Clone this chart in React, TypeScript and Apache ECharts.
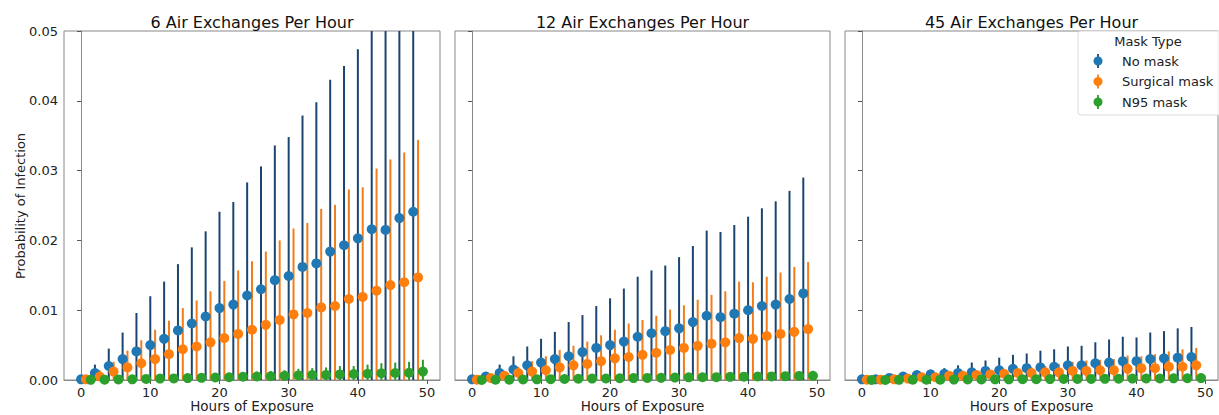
import React, { useEffect, useRef } from "react";
import * as echarts from "echarts";

// ---------- data ----------
const hours = [0, 2, 4, 6, 8, 10, 12, 14, 16, 18, 20, 22, 24, 26, 28, 30, 32, 34, 36, 38, 40, 42, 44, 46, 48];
const panelTitles = ["6 Air Exchanges Per Hour", "12 Air Exchanges Per Hour", "45 Air Exchanges Per Hour"];
const maskTypes = ["No mask", "Surgical mask", "N95 mask"];
const xAxisTitle = "Hours of Exposure";
const yAxisTitle = "Probability of Infection";
const xTicks = [0, 10, 20, 30, 40, 50];
const yTicks = [0, 0.01, 0.02, 0.03, 0.04, 0.05];

// 6 ACH
const ach6NoMask = [0.0001, 0.001, 0.002, 0.003, 0.0041, 0.005, 0.0059, 0.0071, 0.0081, 0.0091, 0.0103, 0.0108, 0.0121, 0.013, 0.0143, 0.0149, 0.0162, 0.0167, 0.0184, 0.0193, 0.0203, 0.0216, 0.0215, 0.0232, 0.0241];
const ach6NoMaskHi = [0.0002, 0.0022, 0.0045, 0.0068, 0.0096, 0.012, 0.0141, 0.0166, 0.019, 0.0213, 0.0241, 0.0255, 0.0283, 0.0306, 0.0336, 0.0348, 0.0379, 0.0398, 0.043, 0.045, 0.0474, 0.052, 0.051, 0.054, 0.056];
const ach6Surgical = [0.0001, 0.0005, 0.0012, 0.0018, 0.0024, 0.003, 0.0037, 0.0044, 0.0048, 0.0054, 0.006, 0.0066, 0.0072, 0.0079, 0.0086, 0.0094, 0.0096, 0.0104, 0.0106, 0.0116, 0.0119, 0.0128, 0.0136, 0.014, 0.0147];
const ach6SurgicalHi = [0.0002, 0.0014, 0.0026, 0.0042, 0.0057, 0.0072, 0.0085, 0.0103, 0.0114, 0.0127, 0.0142, 0.0157, 0.017, 0.0184, 0.02, 0.0217, 0.0225, 0.0245, 0.0251, 0.0273, 0.0276, 0.0303, 0.0316, 0.0326, 0.0344];
const ach6N95 = [0.00002, 0.00005, 0.00008, 0.0001, 0.00016, 0.0002, 0.00023, 0.00027, 0.00031, 0.00036, 0.0004, 0.00046, 0.0005, 0.00054, 0.0006, 0.00066, 0.0007, 0.00073, 0.0008, 0.00086, 0.0009, 0.00097, 0.001, 0.00104, 0.0012];
const ach6N95Hi = [0.00006, 0.0001, 0.0002, 0.0003, 0.0004, 0.0005, 0.0006, 0.0007, 0.0008, 0.0009, 0.001, 0.0011, 0.0012, 0.0013, 0.0014, 0.0016, 0.0017, 0.0018, 0.002, 0.002, 0.0022, 0.0024, 0.0025, 0.0026, 0.0029];

// 12 ACH
const ach12NoMask = [0.0001, 0.0005, 0.001, 0.0015, 0.0021, 0.0025, 0.003, 0.0034, 0.004, 0.0046, 0.005, 0.0055, 0.0062, 0.0067, 0.007, 0.0074, 0.0083, 0.0092, 0.009, 0.0095, 0.01, 0.0106, 0.0108, 0.0116, 0.0124];
const ach12NoMaskHi = [0.0001, 0.0007, 0.0022, 0.0034, 0.0048, 0.0059, 0.0069, 0.0083, 0.0093, 0.0106, 0.0117, 0.0131, 0.0148, 0.0157, 0.0164, 0.0176, 0.0192, 0.0214, 0.0212, 0.0222, 0.0234, 0.0246, 0.0256, 0.0271, 0.029];
const ach12Surgical = [0.00005, 0.0003, 0.0006, 0.001, 0.0012, 0.0014, 0.0018, 0.0021, 0.0023, 0.0027, 0.0031, 0.0033, 0.0036, 0.0039, 0.0043, 0.0046, 0.0049, 0.0052, 0.0054, 0.006, 0.0059, 0.0063, 0.0066, 0.0069, 0.0073];
const ach12SurgicalHi = [0.0001, 0.0005, 0.0011, 0.0019, 0.0027, 0.0034, 0.0043, 0.0049, 0.0055, 0.0064, 0.0072, 0.0081, 0.0086, 0.0092, 0.0101, 0.0107, 0.0115, 0.0122, 0.0127, 0.0141, 0.014, 0.0148, 0.0154, 0.0162, 0.0169];
const ach12N95 = [0.00001, 0.00003, 0.00005, 0.00007, 0.0001, 0.00012, 0.00014, 0.00018, 0.0002, 0.00021, 0.00025, 0.00028, 0.0003, 0.00031, 0.00035, 0.00038, 0.0004, 0.00041, 0.00045, 0.00048, 0.0005, 0.00051, 0.00055, 0.00058, 0.0006];
const ach12N95Hi = [0.00003, 0.00008, 0.00012, 0.00016, 0.0002, 0.00026, 0.0003, 0.00036, 0.0004, 0.00045, 0.0005, 0.00056, 0.0006, 0.00066, 0.0007, 0.00076, 0.0008, 0.00086, 0.0009, 0.00098, 0.001, 0.0011, 0.0011, 0.0012, 0.0013];

// 45 ACH
const ach45NoMask = [0.0001, 0.0001, 0.0003, 0.0005, 0.0007, 0.0008, 0.0009, 0.001, 0.0011, 0.0013, 0.0014, 0.0016, 0.0017, 0.0018, 0.0019, 0.0021, 0.0021, 0.0024, 0.0025, 0.0027, 0.0027, 0.003, 0.0031, 0.0032, 0.0033];
const ach45NoMaskHi = [0.0001, 0.0003, 0.0005, 0.0007, 0.0011, 0.0015, 0.0017, 0.0021, 0.0025, 0.0028, 0.0032, 0.0036, 0.0038, 0.0042, 0.0044, 0.0048, 0.0049, 0.0054, 0.0058, 0.0062, 0.0061, 0.0068, 0.007, 0.0074, 0.0076];
const ach45Surgical = [0.00003, 0.00005, 0.0001, 0.0002, 0.0004, 0.0004, 0.0006, 0.0006, 0.0007, 0.0008, 0.0009, 0.001, 0.001, 0.0011, 0.0011, 0.0013, 0.0013, 0.0014, 0.0014, 0.0016, 0.0017, 0.0017, 0.0019, 0.0019, 0.0021];
const ach45SurgicalHi = [0.00005, 0.0001, 0.0002, 0.0003, 0.0004, 0.0006, 0.0007, 0.0009, 0.0011, 0.0012, 0.0014, 0.0015, 0.0018, 0.002, 0.0023, 0.0026, 0.0028, 0.0029, 0.003, 0.0035, 0.0034, 0.0037, 0.0041, 0.0044, 0.0046];
const ach45N95 = [0.00001, 0.00001, 0.00002, 0.00003, 0.00004, 0.00005, 0.00006, 0.00007, 0.00008, 0.00009, 0.0001, 0.00011, 0.00012, 0.00013, 0.00014, 0.00015, 0.00016, 0.00017, 0.00018, 0.0002, 0.00021, 0.00022, 0.00024, 0.00025, 0.00027];
const ach45N95Hi = [0.00002, 0.00003, 0.00005, 0.00006, 0.00008, 0.0001, 0.00012, 0.00014, 0.00016, 0.00018, 0.0002, 0.00022, 0.00024, 0.00026, 0.00028, 0.0003, 0.00032, 0.00034, 0.00036, 0.0004, 0.00042, 0.00044, 0.00048, 0.0005, 0.00054];

const panels = [
  { mid: [ach6NoMask, ach6Surgical, ach6N95], hi: [ach6NoMaskHi, ach6SurgicalHi, ach6N95Hi] },
  { mid: [ach12NoMask, ach12Surgical, ach12N95], hi: [ach12NoMaskHi, ach12SurgicalHi, ach12N95Hi] },
  { mid: [ach45NoMask, ach45Surgical, ach45N95], hi: [ach45NoMaskHi, ach45SurgicalHi, ach45N95Hi] },
];

// ---------- styling ----------
const FONT = "DejaVu Sans";
const markerColors = ["#1f77b4", "#ff7f0e", "#2ca02c"];
const barColors = ["#1b4570", "#f27d1a", "#2a9a2a"];
const dodge = [0, 0.7, 1.4];
const Y_MAX = 0.05;
const grids = [
  { left: 64, top: 31, width: 376, height: 349 },
  { left: 455, top: 31, width: 375, height: 349 },
  { left: 845, top: 31, width: 373, height: 349 },
];

export default function App() {
  const ref = useRef<HTMLDivElement>(null);
  useEffect(() => {
    if (!ref.current) return;
    const chart = echarts.init(ref.current, null, { renderer: "svg" });

    const xAxis: any[] = [];
    const yAxis: any[] = [];
    const series: any[] = [];
    const graphic: any[] = [];

    grids.forEach((g, gi) => {
      xAxis.push({
        type: "value",
        gridIndex: gi,
        min: -2.47,
        max: 51.87,
        axisLine: { show: true, lineStyle: { color: "#888" } },
        axisTick: { show: true, length: 4, lineStyle: { color: "#555" }, customValues: xTicks },
        axisLabel: { fontFamily: FONT, fontSize: 13, color: "#222", margin: 6, customValues: xTicks },
        splitLine: { show: false },
      });
      yAxis.push({
        type: "value",
        gridIndex: gi,
        min: 0,
        max: Y_MAX,
        interval: 0.01,
        axisLine: { show: true, lineStyle: { color: "#888" } },
        axisTick: { show: true, length: 4, lineStyle: { color: "#555" } },
        axisLabel: {
          show: gi === 0,
          fontFamily: FONT,
          fontSize: 13,
          color: "#222",
          margin: 6,
          formatter: (v: number) => v.toFixed(2),
        },
        splitLine: { show: false },
      });

      const p = panels[gi];
      for (let s = 0; s < 3; s++) {
        const barData = hours.map((h, i) => [h + dodge[s], 0, p.hi[s][i]]);
        const ptData = hours.map((h, i) => [h + dodge[s], p.mid[s][i]]);
        series.push({
          type: "custom",
          name: maskTypes[s],
          xAxisIndex: gi,
          yAxisIndex: gi,
          data: barData,
          encode: { x: 0, y: [1, 2] },
          renderItem: (params: any, api: any) => {
            const x = api.value(0);
            const lo = api.value(1);
            const hi = Math.min(api.value(2), Y_MAX);
            const a = api.coord([x, lo]);
            const b = api.coord([x, hi]);
            return {
              type: "line",
              shape: { x1: a[0], y1: a[1], x2: b[0], y2: b[1] },
              style: { stroke: barColors[s], lineWidth: 2 },
            };
          },
          silent: true,
        });
        series.push({
          type: "scatter",
          name: maskTypes[s],
          xAxisIndex: gi,
          yAxisIndex: gi,
          data: ptData,
          symbol: "circle",
          symbolSize: 10,
          itemStyle: { color: markerColors[s], opacity: 1 },
          silent: true,
        });
      }

      // panel title
      graphic.push({
        type: "text",
        x: g.left + g.width / 2,
        y: 22,
        style: {
          text: panelTitles[gi],
          fontFamily: FONT,
          fontSize: 16,
          fill: "#111",
          textAlign: "center",
          textVerticalAlign: "middle",
        },
      });
      // x-axis title
      graphic.push({
        type: "text",
        x: g.left + g.width / 2,
        y: 406,
        style: {
          text: xAxisTitle,
          fontFamily: FONT,
          fontSize: 13.5,
          fill: "#222",
          textAlign: "center",
          textVerticalAlign: "middle",
        },
      });
    });

    // y-axis title
    graphic.push({
      type: "text",
      x: 20,
      y: 206,
      rotation: Math.PI / 2,
      style: {
        text: yAxisTitle,
        fontFamily: FONT,
        fontSize: 13,
        fill: "#222",
        textAlign: "center",
        textVerticalAlign: "middle",
      },
    });

    // legend
    const lx = 1078;
    const ly = 31;
    graphic.push({
      type: "rect",
      shape: { x: lx, y: ly, width: 150, height: 84, r: 3 },
      style: { fill: "rgba(255,255,255,0.85)", stroke: "#ddd", lineWidth: 1 },
      z: 100,
    });
    graphic.push({
      type: "text",
      x: 1148,
      y: 41,
      z: 101,
      style: {
        text: "Mask Type",
        fontFamily: FONT,
        fontSize: 13,
        fill: "#222",
        textAlign: "center",
        textVerticalAlign: "middle",
      },
    });
    maskTypes.forEach((m, i) => {
      const cy = 61 + i * 20.5;
      graphic.push({
        type: "line",
        z: 101,
        shape: { x1: 1098, y1: cy - 7, x2: 1098, y2: cy + 7 },
        style: { stroke: barColors[i], lineWidth: 1.8 },
      });
      graphic.push({
        type: "circle",
        z: 102,
        shape: { cx: 1098, cy, r: 4.5 },
        style: { fill: markerColors[i] },
      });
      graphic.push({
        type: "text",
        x: 1122,
        y: cy,
        z: 101,
        style: {
          text: m,
          fontFamily: FONT,
          fontSize: 13,
          fill: "#222",
          textVerticalAlign: "middle",
        },
      });
    });

    chart.setOption({
      animation: false,
      backgroundColor: "#fff",
      grid: grids.map((g) => ({
        ...g,
        show: true,
        borderColor: "#888",
        borderWidth: 1,
        containLabel: false,
        outerBoundsMode: "none",
      })),
      xAxis,
      yAxis,
      series,
      graphic,
    });
    return () => chart.dispose();
  }, []);

  return (
    <div
      ref={ref}
      style={{ position: "absolute", left: 0, top: 0, width: 1219, height: 415, overflow: "hidden" }}
    />
  );
}
